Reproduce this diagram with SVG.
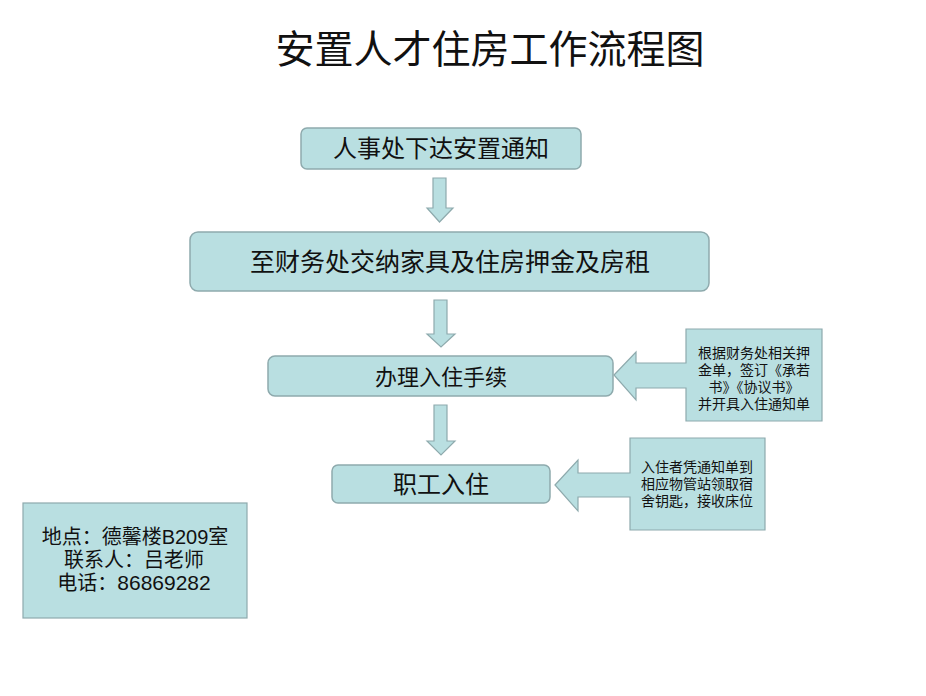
<svg xmlns="http://www.w3.org/2000/svg" width="926" height="696" viewBox="0 0 926 696">
<style>
.box{fill:#b9dfe1;stroke:#8eaaad;stroke-width:1.5}
.arr{fill:#b9dfe1;stroke:#8eaaad;stroke-width:1.2}
.t{font-family:"Liberation Serif","Noto Sans CJK SC",serif;fill:#111;text-anchor:middle}
.s{font-family:"Liberation Sans","Noto Sans CJK SC",sans-serif;fill:#111;text-anchor:middle;font-size:14px}
</style>
<rect width="926" height="696" fill="#ffffff"/>
<text class="t" x="490" y="63" font-size="39">安置人才住房工作流程图</text>
<g id="connectors">
<polygon class="arr" points="433,178 446,178 446,208 453,208 439.5,222 427,208 433,208"/>
<polygon class="arr" points="434,300 447,300 447,334 455,334 441,347 427,334 434,334"/>
<polygon class="arr" points="434,405 447,405 447,441 455,441 441,455 427,441 434,441"/>
</g>
<g id="n1"><rect class="box" x="301" y="128" width="280" height="41" rx="6"/><text class="t" x="441" y="157" font-size="24">人事处下达安置通知</text></g>
<g id="n2"><rect class="box" x="190" y="232" width="519" height="59" rx="8"/><text class="t" x="450" y="271" font-size="25">至财务处交纳家具及住房押金及房租</text></g>
<g id="n3"><rect class="box" x="268" y="356" width="345" height="40" rx="7"/><text class="t" x="441" y="385" font-size="22">办理入住手续</text></g>
<g id="n4"><rect class="box" x="332" y="465" width="218" height="38" rx="6"/><text class="t" x="441" y="493" font-size="24">职工入住</text></g>
<g id="c1"><polygon class="arr" points="614,375 636,352 636,363 686,363 686,329 822,329 822,421 686,421 686,388 636,388 636,400"/>
<text class="s" x="754" y="358">根据财务处相关押</text><text class="s" x="754" y="375">金单，签订《承若</text><text class="s" x="754" y="392">书》《协议书》</text><text class="s" x="754" y="409">并开具入住通知单</text></g>
<g id="c2"><polygon class="arr" points="555,485 578,460 578,473 630,473 630,438 765,438 765,530 630,530 630,497 578,497 578,511"/>
<text class="s" x="697" y="472">入住者凭通知单到</text><text class="s" x="697" y="489">相应物管站领取宿</text><text class="s" x="697" y="506">舍钥匙，接收床位</text></g>
<g id="info"><rect x="23" y="503" width="224" height="115" fill="#b9dfe1" stroke="#8eaaad" stroke-width="1.2"/>
<text class="t" x="135" y="544" font-size="20">地点：德馨楼<tspan font-family="Liberation Sans,sans-serif">B209</tspan>室</text>
<text class="t" x="134" y="567" font-size="20">联系人：吕老师</text>
<text class="t" x="134" y="590" font-size="20">电话：<tspan font-family="Liberation Sans,sans-serif" font-size="21">86869282</tspan></text></g>
</svg>
